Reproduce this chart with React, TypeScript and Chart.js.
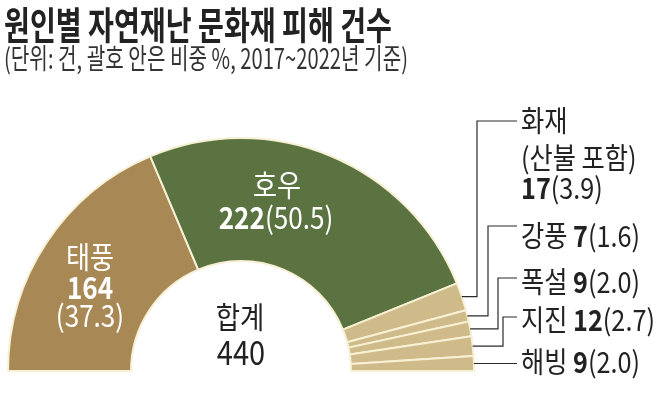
import React, { useEffect, useRef } from 'react';
import { Chart, registerables } from 'chart.js';
Chart.register(...registerables);

const TITLE = '원인별 자연재난 문화재 피해 건수';
const SUBTITLE = '(단위: 건, 괄호 안은 비중 %, 2017~2022년 기준)';
const categories = ['태풍', '호우', '화재', '강풍', '폭설', '지진', '해빙'];
const values = [164, 222, 17, 7, 9, 12, 9];
const shares = ['37.3', '50.5', '3.9', '1.6', '2.0', '2.7', '2.0'];
const totalLabel = '합계';
const fireNote = '(산불 포함)';

const FONT = '"Noto Sans CJK KR", "Noto Sans", sans-serif';
const COLORS = ['#a88956', '#5a7340', '#cfba8a', '#cfba8a', '#cfba8a', '#cfba8a', '#cfba8a'];
const BORDER = '#f7f0d4';
const DARK = '#222222';

type Run = { t: string; bold?: boolean };

function fontOf(bold: boolean | undefined, size: number) {
  return `${bold ? 700 : 400} ${size}px ${FONT}`;
}

function drawRuns(ctx: CanvasRenderingContext2D, runs: Run[], x: number, y: number, size: number, sx: number, align: 'left' | 'center', color: string) {
  ctx.save();
  ctx.fillStyle = color;
  ctx.textBaseline = 'middle';
  ctx.textAlign = 'left';
  const widths = runs.map((r) => {
    ctx.font = fontOf(r.bold, size);
    return ctx.measureText(r.t).width;
  });
  const total = widths.reduce((a, b) => a + b, 0) * sx;
  const startX = align === 'center' ? x - total / 2 : x;
  ctx.translate(startX, y);
  ctx.scale(sx, 1);
  let off = 0;
  runs.forEach((r, i) => {
    ctx.font = fontOf(r.bold, size);
    ctx.fillText(r.t, off, 0);
    off += widths[i];
  });
  ctx.restore();
}

function drawFit(ctx: CanvasRenderingContext2D, text: string, x: number, y: number, size: number, bold: boolean, targetW: number, color: string) {
  ctx.save();
  ctx.font = fontOf(bold, size);
  const w = ctx.measureText(text).width;
  const sx = targetW / w;
  ctx.restore();
  drawRuns(ctx, [{ t: text, bold }], x, y, size, sx, 'left', color);
}

// leader layout for small slices (index 2..6)
const ELBOW_X = [0, 0, 477, 488, 498, 503, 0];
const LINE_Y = [0, 0, 121, 226, 278, 317, 0];
const TEXT_X = 521;
const LINE_END_X = 517;

const labelPlugin = {
  id: 'labels',
  afterDraw(chart: any) {
    const ctx: CanvasRenderingContext2D = chart.ctx;
    const meta = chart.getDatasetMeta(0);
    const total = values.reduce((a, b) => a + b, 0);

    // title + subtitle
    drawFit(ctx, TITLE, 4, 25, 38, true, 388, DARK);
    drawFit(ctx, SUBTITLE, 4, 58, 28, false, 404, '#333333');

    // inner labels
    const IS = 30;
    const IX = 0.87;
    drawRuns(ctx, [{ t: categories[0] }], 90, 257, IS, IX, 'center', '#ffffff');
    drawRuns(ctx, [{ t: String(values[0]), bold: true }], 90, 288, IS, IX, 'center', '#ffffff');
    drawRuns(ctx, [{ t: `(${shares[0]})` }], 90, 316, IS, IX, 'center', '#ffffff');

    drawRuns(ctx, [{ t: categories[1] }], 277, 185, IS, IX, 'center', '#ffffff');
    drawRuns(ctx, [{ t: String(values[1]), bold: true }, { t: `(${shares[1]})` }], 276, 218, IS, IX, 'center', '#ffffff');

    drawRuns(ctx, [{ t: totalLabel }], 240, 317, 30, 0.88, 'center', DARK);
    drawRuns(ctx, [{ t: String(total) }], 241, 352, 33, 0.88, 'center', DARK);

    // right labels
    const RS = 29;
    const RX = 0.87;
    drawRuns(ctx, [{ t: categories[2] }], TEXT_X, 121, RS, RX, 'left', DARK);
    drawRuns(ctx, [{ t: fireNote }], TEXT_X, 158, RS, RX, 'left', DARK);
    drawRuns(ctx, [{ t: String(values[2]), bold: true }, { t: `(${shares[2]})` }], TEXT_X, 188, RS, RX, 'left', DARK);
    const rowY = [0, 0, 0, 236, 282, 320, 362];
    for (let i = 3; i < categories.length; i++) {
      drawRuns(ctx, [{ t: categories[i] + ' ' }, { t: String(values[i]), bold: true }, { t: `(${shares[i]})` }], TEXT_X, rowY[i], RS, RX, 'left', DARK);
    }

    // leader lines
    ctx.save();
    ctx.strokeStyle = '#2a2a2a';
    ctx.lineWidth = 1.2;
    for (let i = 2; i < categories.length; i++) {
      const arc = meta.data[i];
      const mid = (arc.startAngle + arc.endAngle) / 2;
      const ax = arc.x + Math.cos(mid) * arc.outerRadius;
      const ay = arc.y + Math.sin(mid) * arc.outerRadius;
      ctx.beginPath();
      if (ELBOW_X[i] > 0) {
        ctx.moveTo(LINE_END_X, LINE_Y[i]);
        ctx.lineTo(ELBOW_X[i], LINE_Y[i]);
        ctx.lineTo(ELBOW_X[i], ay);
        ctx.lineTo(ax, ay);
      } else {
        ctx.moveTo(LINE_END_X, ay);
        ctx.lineTo(ax, ay);
      }
      ctx.stroke();
    }
    ctx.restore();
  },
};

export default function App() {
  const ref = useRef<HTMLCanvasElement>(null);
  useEffect(() => {
    if (!ref.current) return;
    const chart = new Chart(ref.current, {
      type: 'doughnut',
      data: {
        labels: categories,
        datasets: [
          {
            data: values,
            backgroundColor: COLORS,
            borderColor: BORDER,
            borderWidth: 2,
            hoverOffset: 0,
          },
        ],
      },
      options: {
        responsive: false,
        animation: false,
        devicePixelRatio: 1,
        events: [],
        rotation: -90,
        circumference: 180,
        cutout: '47.2%',
        layout: { padding: { left: 6, right: 182, top: 137, bottom: 22 } },
        plugins: { legend: { display: false }, tooltip: { enabled: false } },
      },
      plugins: [labelPlugin],
    });
    return () => chart.destroy();
  }, []);
  return (
    <div style={{ position: 'fixed', left: 0, top: 0, width: 658, height: 394, background: '#ffffff' }}>
      <canvas ref={ref} width={658} height={394} style={{ display: 'block' }} />
    </div>
  );
}
